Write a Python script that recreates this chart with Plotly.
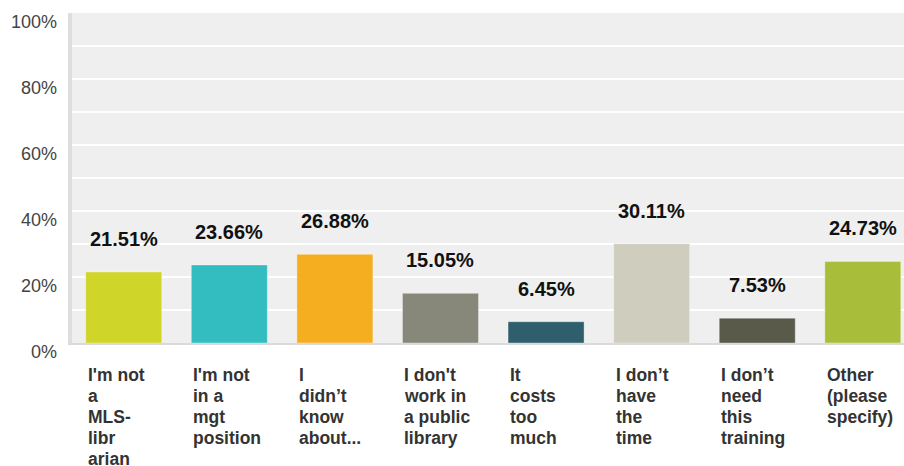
import plotly.graph_objects as go

# Survey responses: reasons for not taking the training
categories = [
    "I'm not a MLS-librarian",
    "I'm not in a mgt position",
    "I didn't know about...",
    "I don't work in a public library",
    "It costs too much",
    "I don't have the time",
    "I don't need this training",
    "Other (please specify)",
]
label_lines = [
    ["I'm not", "a", "MLS-", "libr", "arian"],
    ["I'm not", "in a", "mgt", "position"],
    ["I", "didn\u2019t", "know", "about..."],
    ["I don't", "work in", "a public", "library"],
    ["It", "costs", "too", "much"],
    ["I don\u2019t", "have", "the", "time"],
    ["I don\u2019t", "need", "this", "training"],
    ["Other", "(please", "specify)"],
]
percentages = [21.51, 23.66, 26.88, 15.05, 6.45, 30.11, 7.53, 24.73]
bar_colors = ["#cfd529", "#34bdc0", "#f6ae21", "#87887a",
              "#2f5f6d", "#cfcdbe", "#5a5a4b", "#a8be3a"]
y_ticks = [0, 20, 40, 60, 80, 100]
y_tick_text = ["0%", "20%", "40%", "60%", "80%", "100%"]

FONT = "Liberation Sans, Arial, sans-serif"
x_idx = list(range(len(categories)))

fig = go.Figure(
    go.Bar(
        x=x_idx,
        y=percentages,
        marker=dict(color=bar_colors, line=dict(color="rgba(255,255,255,0.35)", width=1)),
        width=0.72,
        hoverinfo="skip",
    )
)

annotations = []
# value labels above each bar
for i, v in enumerate(percentages):
    annotations.append(dict(
        x=i, y=v, xref="x", yref="y",
        text=f"<b>{v:.2f}%</b>", showarrow=False,
        xanchor="center", yanchor="middle", yshift=33,
        font=dict(family=FONT, size=20, color="#111111"),
    ))
# wrapped category labels under each bar, left aligned
for i, lines in enumerate(label_lines):
    for j, line in enumerate(lines):
        annotations.append(dict(
            x=i - 0.36, y=0, xref="x", yref="paper",
            text=f"<b>{line}</b>", showarrow=False,
            xanchor="left", yanchor="middle",
            yshift=-31.5 - 21.1 * j,
            font=dict(family=FONT, size=17.5, color="#333333"),
        ))
# y tick labels, set slightly below their gridlines
for val, txt in zip(y_ticks, y_tick_text):
    annotations.append(dict(
        x=0, y=val, xref="paper", yref="y",
        text=txt, showarrow=False,
        xanchor="right", yanchor="middle",
        xshift=-13, yshift=-8.5,
        font=dict(family=FONT, size=18, color="#444444"),
    ))

fig.update_layout(
    width=904, height=466,
    margin=dict(l=72, r=0, t=13, b=123),
    paper_bgcolor="#ffffff",
    plot_bgcolor="#efefef",
    showlegend=False,
    annotations=annotations,
    font=dict(family=FONT),
    xaxis=dict(
        range=[-0.49, 7.39],
        showticklabels=False,
        showgrid=False, zeroline=False,
        showline=True, linecolor="#dadada", linewidth=2,
        fixedrange=True,
    ),
    yaxis=dict(
        range=[0, 100],
        tickvals=y_ticks,
        showticklabels=False,
        showgrid=True, gridcolor="#ffffff", gridwidth=2,
        zeroline=False,
        showline=True, linecolor="#dedede", linewidth=4,
        fixedrange=True,
        minor=dict(dtick=10, showgrid=True, gridcolor="#ffffff", gridwidth=2),
    ),
)

fig.write_html("out.html")
